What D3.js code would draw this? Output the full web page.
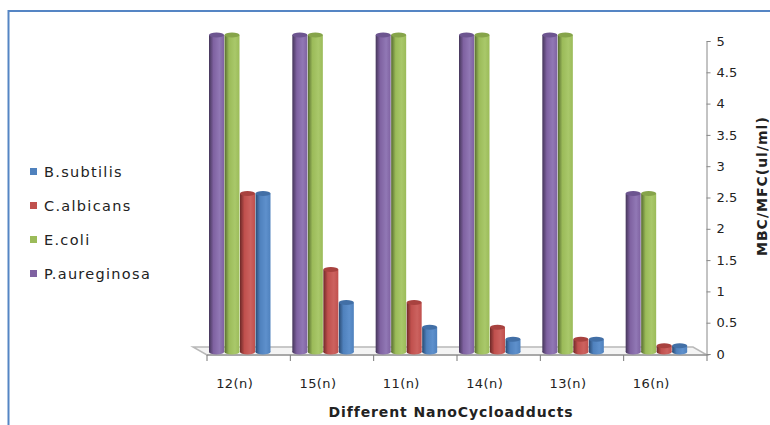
<!DOCTYPE html>
<html>
<head>
<meta charset="utf-8">
<script src="https://cdn.jsdelivr.net/npm/d3@7"></script>
<style>
  body { margin: 0; background: #fff; }
  svg { display: block; }
  text { font-family: "DejaVu Sans", Verdana, sans-serif; fill: #222; }
</style>
</head>
<body>
<svg id="chart" width="770" height="425"></svg>
<script>
// Compounds on the category axis
const categories = ["12(n)", "15(n)", "11(n)", "14(n)", "13(n)", "16(n)"];

// MBC/MFC values (ul/ml) per organism
const pAureginosa = [5, 5, 5, 5, 5, 2.5];
const eColi       = [5, 5, 5, 5, 5, 2.5];
const cAlbicans   = [2.5, 1.3, 0.78, 0.39, 0.2, 0.1];
const bSubtilis   = [2.5, 0.78, 0.39, 0.2, 0.2, 0.1];

// Order of bars inside a group, and order of legend entries
const seriesOrder  = ["P.aureginosa", "E.coli", "C.albicans", "B.subtilis"];
const legendOrder  = ["B.subtilis", "C.albicans", "E.coli", "P.aureginosa"];

const yTicks = [0, 0.5, 1, 1.5, 2, 2.5, 3, 3.5, 4, 4.5, 5];

const seriesValues = {
  "P.aureginosa": pAureginosa,
  "E.coli": eColi,
  "C.albicans": cAlbicans,
  "B.subtilis": bSubtilis
};

// base / dark / light shades for the cylinder-like bars
const palette = {
  "P.aureginosa": { base: "#7f62a1", dark: "#45365a", light: "#9178b5", cap: "#6d5590" },
  "E.coli":       { base: "#9bbb59", dark: "#566a30", light: "#a9c86a", cap: "#86a44a" },
  "C.albicans":   { base: "#c0504d", dark: "#6e2927", light: "#cc625f", cap: "#a8423f" },
  "B.subtilis":   { base: "#4f81bd", dark: "#2a4a72", light: "#5e90cc", cap: "#426fa6" }
};

const svg = d3.select("#chart");

// chart frame
svg.append("rect")
  .attr("x", 8.5).attr("y", 11)
  .attr("width", 800).attr("height", 500)
  .attr("fill", "none")
  .attr("stroke", "#5585c4")
  .attr("stroke-width", 2);

// scales
const x = d3.scaleBand().domain(categories).range([207, 707]);
const xs = d3.scaleBand().domain(seriesOrder).range([2, 64]);
const yAxisScale = d3.scaleLinear().domain([0, 5]).range([354, 41]);
const yBar = d3.scaleLinear().domain([0, 5]).range([352, 35]);

const depthX = -14, depthY = -8;   // back-plane offset of the floor
const floorFront = 355;

// gradients
const defs = svg.append("defs");
seriesOrder.forEach((s, i) => {
  const c = palette[s];
  const g = defs.append("linearGradient").attr("id", "grad" + i)
    .attr("x1", "0%").attr("x2", "100%").attr("y1", "0%").attr("y2", "0%");
  g.append("stop").attr("offset", "0%").attr("stop-color", c.dark);
  g.append("stop").attr("offset", "30%").attr("stop-color", c.base);
  g.append("stop").attr("offset", "70%").attr("stop-color", c.light);
  g.append("stop").attr("offset", "100%").attr("stop-color", c.base);
});

// floor
const [x0, x1] = x.range();
svg.append("polygon")
  .attr("points", [
    [x0 + depthX, floorFront + depthY],
    [x1 + depthX, floorFront + depthY],
    [x1, floorFront],
    [x0, floorFront]
  ].map(p => p.join(",")).join(" "))
  .attr("fill", "#f4f4f4")
  .attr("stroke", "#b8b8b8")
  .attr("stroke-width", 1.5);

// category boundaries on the front edge
const boundaries = categories.map(c => x(c)).concat([x1]);
svg.append("g").selectAll("line").data(boundaries).join("line")
  .attr("x1", d => d).attr("x2", d => d)
  .attr("y1", floorFront).attr("y2", floorFront + 6)
  .attr("stroke", "#777").attr("stroke-width", 1);
svg.append("line")
  .attr("x1", x0).attr("x2", x1)
  .attr("y1", floorFront).attr("y2", floorFront)
  .attr("stroke", "#888").attr("stroke-width", 1);

// bars
seriesOrder.forEach((s, i) => {
  const vals = seriesValues[s];
  const w = xs.bandwidth() - 0.5;
  const g = svg.append("g");
  const data = categories.map((c, k) => ({ c, v: vals[k] }));
  g.selectAll("ellipse.bottom").data(data).join("ellipse")
    .attr("class", "bottom")
    .attr("cx", d => x(d.c) + xs(s) + w / 2)
    .attr("cy", yBar(0))
    .attr("rx", w / 2).attr("ry", 2.5)
    .attr("fill", `url(#grad${i})`);
  g.selectAll("rect").data(data).join("rect")
    .attr("x", d => x(d.c) + xs(s))
    .attr("y", d => yBar(d.v))
    .attr("width", w)
    .attr("height", d => yBar(0) - yBar(d.v))
    .attr("fill", `url(#grad${i})`);
  g.selectAll("ellipse.top").data(data).join("ellipse")
    .attr("class", "top")
    .attr("cx", d => x(d.c) + xs(s) + w / 2)
    .attr("cy", d => yBar(d.v))
    .attr("rx", w / 2).attr("ry", 2.5)
    .attr("fill", palette[s].cap);
});

// category labels (centred on the back plane)
const xAxis = svg.append("g")
  .attr("transform", `translate(${depthX},${floorFront + 18})`)
  .call(d3.axisBottom(x).tickSize(0).tickPadding(6));
xAxis.select(".domain").remove();
xAxis.selectAll("text")
  .style("font-family", "'DejaVu Sans', Verdana, sans-serif")
  .style("font-size", "13px")
  .style("letter-spacing", "0.4px")
  .attr("fill", "#222");

// value axis on the right
const yAxis = svg.append("g")
  .attr("transform", `translate(${x1 - 0.5},0)`)
  .call(d3.axisRight(yAxisScale).tickValues(yTicks).tickSize(4).tickPadding(6)
        .tickFormat(d3.format("")));
yAxis.select(".domain").attr("stroke", "#888");
yAxis.selectAll(".tick line").attr("stroke", "#888");
yAxis.selectAll("text")
  .style("font-family", "'DejaVu Sans', Verdana, sans-serif")
  .style("font-size", "13px")
  .attr("fill", "#222");

// axis titles
svg.append("text")
  .attr("x", 451).attr("y", 417)
  .attr("text-anchor", "middle")
  .style("font-size", "14px")
  .style("font-weight", "bold")
  .style("letter-spacing", "0.9px")
  .text("Different NanoCycloadducts");

svg.append("text")
  .attr("transform", "translate(767,256) rotate(-90)")
  .attr("text-anchor", "start")
  .style("font-size", "14px")
  .style("font-weight", "bold")
  .style("letter-spacing", "1px")
  .text("MBC/MFC(ul/ml)");

// legend
const legend = svg.append("g").selectAll("g").data(legendOrder).join("g")
  .attr("transform", (d, i) => `translate(30,${172 + i * 34})`);
legend.append("rect")
  .attr("x", 0).attr("y", -4).attr("width", 7).attr("height", 7)
  .attr("fill", d => palette[d].base);
legend.append("text")
  .attr("x", 14).attr("y", 0).attr("dy", "0.36em")
  .style("font-size", "14.5px")
  .style("letter-spacing", "1.3px")
  .text(d => d);
</script>
</body>
</html>
